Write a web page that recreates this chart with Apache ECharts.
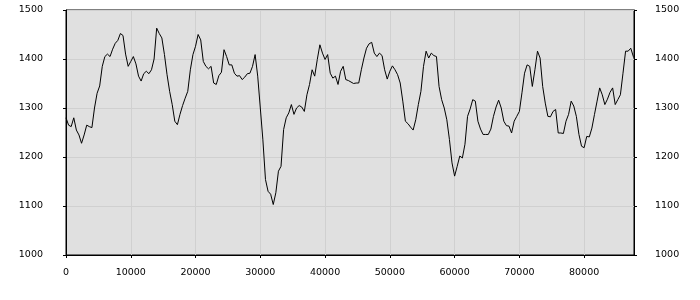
<!DOCTYPE html>
<html>
<head>
<meta charset="utf-8">
<script src="https://cdn.jsdelivr.net/npm/echarts@6/dist/echarts.min.js"></script>
<style>html,body{margin:0;padding:0;background:#fff}#c{width:700px;height:300px}</style>
</head>
<body>
<div id="c"></div>
<script>
const STEP = 400;
const values = [
  1280,1265,1262,1280,1255,1245,1228,1245,1265,1262,
  1260,1300,1330,1345,1385,1405,1410,1405,1420,1432,
  1438,1452,1448,1410,1385,1395,1405,1390,1365,1355,
  1370,1375,1370,1378,1400,1463,1452,
  1443,1409,1368,1334,1307,1273,1266,1287,1305,1320,
  1334,1378,1409,1426,1450,1439,1395,1385,1380,1385,
  1351,1348,1366,1373,1419,1405,1388,1388,1371,1365,
  1366,1358,1363,1370,1371,1385,1409,1365,
  1300,1235,1154,1130,1124,1103,1127,1171,1181,1256,
  1280,1290,1307,1287,1300,1305,1302,1293,1327,1348,
  1378,1365,1399,1429,1412,1399,1409,1371,1361,1365,
  1348,1375,1385,1358,1356,1353,
  1350,1351,1351,1378,1402,1422,1431,1434,1412,1405,
  1412,1407,1378,1359,1375,1386,1378,1368,1351,1314,
  1273,1268,1261,1255,1276,1307,1334,1385,1416,1402,
  1412,1407,1405,1344,1317,1300,1276,1236,
  1188,1161,1181,1202,1198,1226,1283,1298,1317,1314,
  1273,1257,1246,1246,1246,1257,1283,1302,1316,1300,
  1273,1264,1263,1249,1273,1283,1293,1331,1371,1388,
  1385,1344,1378,1416,1402,1344,1310,
  1283,1282,1293,1297,1249,1249,1248,1273,1287,1314,
  1304,1283,1246,1222,1219,1242,1241,1259,1287,1314,
  1341,1327,1307,1318,1332,1341,1307,1317,1327,1371,
  1416,1416,1422,1405,1398
];
const xTicks = [0,10000,20000,30000,40000,50000,60000,70000,80000];
const yTicks = [1000,1100,1200,1300,1400,1500];
const X_MAX = 87700;

const data = values.map((v, i) => [i * STEP, v]);
const font = {fontFamily: 'DejaVu Sans', fontSize: 9.5, color: '#000', formatter: v => String(v)};

const chart = echarts.init(document.getElementById('c'), null, {renderer: 'canvas'});
const yAx = (pos, margin, split) => ({
  type: 'value', position: pos, min: yTicks[0], max: yTicks[yTicks.length - 1], interval: 100,
  axisLine: {show: true, onZero: false, lineStyle: {color: '#000', width: 1}},
  axisTick: {show: true, length: 3, lineStyle: {color: '#000'}},
  axisLabel: Object.assign({margin: margin}, font),
  splitLine: {show: split, lineStyle: {color: '#d0d0d0', width: 1}}
});
chart.setOption({
  animation: false,
  grid: {left: 66, right: 66, top: 10, bottom: 45, show: true, backgroundColor: '#e0e0e0', borderColor: '#000', borderWidth: 1, containLabel: false},
  xAxis: {
    type: 'value', min: 0, max: X_MAX, interval: 10000,
    axisLine: {show: true, onZero: false, lineStyle: {color: '#000', width: 1}},
    axisTick: {show: true, length: 3, lineStyle: {color: '#000'}, customValues: xTicks},
    axisLabel: Object.assign({margin: 13, customValues: xTicks}, font),
    splitLine: {show: true, lineStyle: {color: '#d0d0d0', width: 1}}
  },
  yAxis: [yAx('left', 23, true), yAx('right', 21, false)],
  series: [{
    type: 'line', data: data, yAxisIndex: 0, showSymbol: false, symbol: 'none',
    lineStyle: {color: '#000', width: 1}, silent: true, clip: true
  }]
});
</script>
</body>
</html>
